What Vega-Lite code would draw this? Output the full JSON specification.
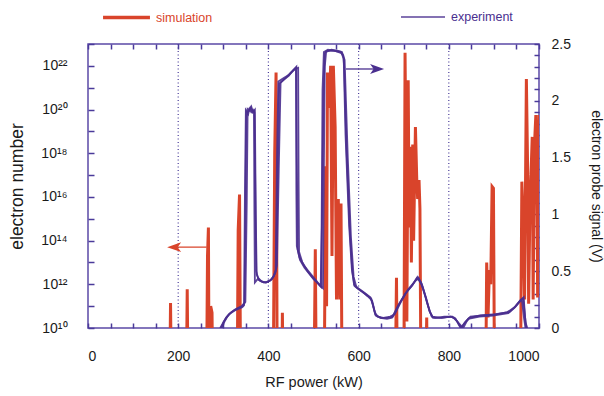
{
  "$schema": "https://vega.github.io/schema/vega-lite/v6.json",
  "width": 451,
  "height": 284,
  "autosize": "none",
  "padding": {"left": 88, "top": 44, "right": 65, "bottom": 68},
  "config": {
    "view": {"stroke": "#5b4aa6", "strokeWidth": 1.5},
    "font": "Liberation Sans",
    "axis": {"labelFont": "Liberation Sans", "titleFont": "Liberation Sans", "titleFontWeight": "normal", "labelColor": "#1a1a1a", "titleColor": "#1a1a1a", "tickColor": "#4a3a9a", "tickWidth": 1.5, "tickOpacity": 1, "domain": false, "grid": false, "labelOverlap": false, "labelFlush": false, "ticks": true, "zindex": 2}
  },
  "datasets": {
    "sim": [
      {"kw":0,"n":1e5},{"kw":180,"n":1e5},{"kw":183,"n":1.4e11},{"kw":186,"n":1e5},
      {"kw":217,"n":1e5},{"kw":220,"n":6e11},{"kw":223,"n":1e5},
      {"kw":262,"n":1e5},{"kw":265,"n":2e13},{"kw":267,"n":4e14},{"kw":269,"n":1e5},{"kw":272,"n":1e11},{"kw":275,"n":5e10},{"kw":278,"n":1e5},
      {"kw":330,"n":1e5},{"kw":333,"n":3e14},{"kw":336,"n":1.3e16},{"kw":339,"n":1e5},
      {"kw":410,"n":1e5},{"kw":414,"n":1e18},{"kw":417,"n":5e21},{"kw":420,"n":1e5},{"kw":429,"n":1e5},{"kw":431,"n":5e10},{"kw":434,"n":1e5},
      {"kw":500,"n":1e5},{"kw":504,"n":4e13},{"kw":507,"n":1e5},
      {"kw":523,"n":1e5},{"kw":527,"n":2.5e17},{"kw":529,"n":1e11},{"kw":531,"n":5e21},{"kw":535,"n":1.2e20},{"kw":538,"n":1e22},{"kw":541,"n":2e13},{"kw":544,"n":1e22},{"kw":548,"n":1.6e19},{"kw":551,"n":2e11},{"kw":555,"n":8e15},{"kw":558,"n":2e11},{"kw":561,"n":5e15},{"kw":564,"n":1e5},
      {"kw":680,"n":1e5},{"kw":684,"n":2e12},{"kw":687,"n":1e5},
      {"kw":700,"n":1e5},{"kw":703,"n":4e22},{"kw":705,"n":3e17},{"kw":707,"n":2e10},{"kw":710,"n":2.2e21},{"kw":712,"n":4e14},{"kw":715,"n":2e18},{"kw":717,"n":1e13},{"kw":720,"n":2.5e18},{"kw":722,"n":1e14},{"kw":726,"n":1.6e19},{"kw":729,"n":6e16},{"kw":731,"n":8e15},{"kw":734,"n":6e16},{"kw":736,"n":3e15},{"kw":739,"n":1e5},
      {"kw":748,"n":1e5},{"kw":751,"n":3e10},{"kw":754,"n":1e5},
      {"kw":881,"n":1e5},{"kw":884,"n":1e13},{"kw":887,"n":3e10},{"kw":890,"n":4.5e12},{"kw":893,"n":1e12},{"kw":896,"n":3e16},{"kw":899,"n":2.5e16},{"kw":902,"n":1e5},
      {"kw":958,"n":1e5},{"kw":962,"n":5e16},{"kw":965,"n":1e15},{"kw":968,"n":2e11},{"kw":972,"n":2.5e21},{"kw":975,"n":1e17},{"kw":977,"n":1.3e11},{"kw":980,"n":5e15},{"kw":983,"n":3e17},{"kw":985,"n":5.6e18},{"kw":987,"n":2e11},{"kw":990,"n":2.5e18},{"kw":993,"n":5.6e19},{"kw":995,"n":3e17},{"kw":997,"n":2.5e11},{"kw":1000,"n":5.6e19}
    ],
    "exp": [
      {"sweep":"A","i":0,"kw":295,"v":0},{"sweep":"A","i":1,"kw":300,"v":0.05},{"sweep":"A","i":2,"kw":308,"v":0.1},{"sweep":"A","i":3,"kw":318,"v":0.14},{"sweep":"A","i":4,"kw":330,"v":0.17},{"sweep":"A","i":5,"kw":343,"v":0.19},{"sweep":"A","i":6,"kw":347,"v":0.22},{"sweep":"A","i":7,"kw":349,"v":1.0},{"sweep":"A","i":8,"kw":351,"v":1.9},{"sweep":"A","i":9,"kw":355,"v":1.88},{"sweep":"A","i":10,"kw":358,"v":1.93},{"sweep":"A","i":11,"kw":362,"v":1.9},{"sweep":"A","i":12,"kw":366,"v":1.92},{"sweep":"A","i":13,"kw":369,"v":1.9},{"sweep":"A","i":14,"kw":371,"v":1.2},{"sweep":"A","i":15,"kw":373,"v":0.5},{"sweep":"A","i":16,"kw":377,"v":0.44},{"sweep":"A","i":17,"kw":385,"v":0.41},{"sweep":"A","i":18,"kw":395,"v":0.4},{"sweep":"A","i":19,"kw":405,"v":0.42},{"sweep":"A","i":20,"kw":412,"v":0.46},{"sweep":"A","i":21,"kw":417,"v":0.52},{"sweep":"A","i":22,"kw":420,"v":1.2},{"sweep":"A","i":23,"kw":424,"v":2.15},{"sweep":"A","i":24,"kw":435,"v":2.19},{"sweep":"A","i":25,"kw":445,"v":2.22},{"sweep":"A","i":26,"kw":455,"v":2.27},{"sweep":"A","i":27,"kw":462,"v":2.3},{"sweep":"A","i":28,"kw":463,"v":1.5},{"sweep":"A","i":29,"kw":465,"v":0.69},{"sweep":"A","i":30,"kw":470,"v":0.6},{"sweep":"A","i":31,"kw":480,"v":0.53},{"sweep":"A","i":32,"kw":490,"v":0.48},{"sweep":"A","i":33,"kw":500,"v":0.43},{"sweep":"A","i":34,"kw":510,"v":0.39},{"sweep":"A","i":35,"kw":517,"v":0.36},{"sweep":"A","i":36,"kw":519,"v":1.0},{"sweep":"A","i":37,"kw":522,"v":2.0},{"sweep":"A","i":38,"kw":525,"v":2.42},{"sweep":"A","i":39,"kw":530,"v":2.44},{"sweep":"A","i":40,"kw":545,"v":2.44},{"sweep":"A","i":41,"kw":560,"v":2.43},{"sweep":"A","i":42,"kw":566,"v":2.4},{"sweep":"A","i":43,"kw":568,"v":2.3},{"sweep":"A","i":44,"kw":573,"v":1.6},{"sweep":"A","i":45,"kw":580,"v":0.9},{"sweep":"A","i":46,"kw":586,"v":0.5},{"sweep":"A","i":47,"kw":591,"v":0.37},{"sweep":"A","i":48,"kw":600,"v":0.34},{"sweep":"A","i":49,"kw":615,"v":0.3},{"sweep":"A","i":50,"kw":628,"v":0.26},{"sweep":"A","i":51,"kw":633,"v":0.18},{"sweep":"A","i":52,"kw":638,"v":0.11},{"sweep":"A","i":53,"kw":650,"v":0.09},{"sweep":"A","i":54,"kw":665,"v":0.09},{"sweep":"A","i":55,"kw":676,"v":0.1},{"sweep":"A","i":56,"kw":690,"v":0.21},{"sweep":"A","i":57,"kw":705,"v":0.31},{"sweep":"A","i":58,"kw":720,"v":0.38},{"sweep":"A","i":59,"kw":731,"v":0.45},{"sweep":"A","i":60,"kw":740,"v":0.39},{"sweep":"A","i":61,"kw":750,"v":0.26},{"sweep":"A","i":62,"kw":758,"v":0.14},{"sweep":"A","i":63,"kw":765,"v":0.09},{"sweep":"A","i":64,"kw":785,"v":0.09},{"sweep":"A","i":65,"kw":805,"v":0.1},{"sweep":"A","i":66,"kw":815,"v":0.08},{"sweep":"A","i":67,"kw":822,"v":0.03},{"sweep":"A","i":68,"kw":828,"v":0},{"sweep":"A","i":69,"kw":836,"v":0.05},{"sweep":"A","i":70,"kw":845,"v":0.09},{"sweep":"A","i":71,"kw":870,"v":0.11},{"sweep":"A","i":72,"kw":900,"v":0.12},{"sweep":"A","i":73,"kw":934,"v":0.14},{"sweep":"A","i":74,"kw":948,"v":0.19},{"sweep":"A","i":75,"kw":960,"v":0.25},{"sweep":"A","i":76,"kw":965,"v":0.26},{"sweep":"A","i":77,"kw":969,"v":0.1},{"sweep":"A","i":78,"kw":972,"v":0},
      {"sweep":"B","i":0,"kw":297,"v":0},{"sweep":"B","i":1,"kw":303,"v":0.06},{"sweep":"B","i":2,"kw":312,"v":0.12},{"sweep":"B","i":3,"kw":325,"v":0.16},{"sweep":"B","i":4,"kw":340,"v":0.19},{"sweep":"B","i":5,"kw":349,"v":0.23},{"sweep":"B","i":6,"kw":352,"v":1.1},{"sweep":"B","i":7,"kw":354,"v":1.93},{"sweep":"B","i":8,"kw":358,"v":1.92},{"sweep":"B","i":9,"kw":362,"v":1.95},{"sweep":"B","i":10,"kw":366,"v":1.9},{"sweep":"B","i":11,"kw":370,"v":1.92},{"sweep":"B","i":12,"kw":372,"v":1.0},{"sweep":"B","i":13,"kw":374,"v":0.47},{"sweep":"B","i":14,"kw":380,"v":0.42},{"sweep":"B","i":15,"kw":390,"v":0.4},{"sweep":"B","i":16,"kw":400,"v":0.41},{"sweep":"B","i":17,"kw":408,"v":0.43},{"sweep":"B","i":18,"kw":415,"v":0.48},{"sweep":"B","i":19,"kw":419,"v":0.55},{"sweep":"B","i":20,"kw":423,"v":1.4},{"sweep":"B","i":21,"kw":427,"v":2.16},{"sweep":"B","i":22,"kw":438,"v":2.2},{"sweep":"B","i":23,"kw":450,"v":2.25},{"sweep":"B","i":24,"kw":459,"v":2.28},{"sweep":"B","i":25,"kw":466,"v":2.29},{"sweep":"B","i":26,"kw":467,"v":1.3},{"sweep":"B","i":27,"kw":468,"v":0.67},{"sweep":"B","i":28,"kw":475,"v":0.58},{"sweep":"B","i":29,"kw":487,"v":0.5},{"sweep":"B","i":30,"kw":497,"v":0.45},{"sweep":"B","i":31,"kw":507,"v":0.41},{"sweep":"B","i":32,"kw":515,"v":0.37},{"sweep":"B","i":33,"kw":521,"v":0.35},{"sweep":"B","i":34,"kw":523,"v":1.4},{"sweep":"B","i":35,"kw":525,"v":2.3},{"sweep":"B","i":36,"kw":528,"v":2.43},{"sweep":"B","i":37,"kw":540,"v":2.45},{"sweep":"B","i":38,"kw":555,"v":2.44},{"sweep":"B","i":39,"kw":563,"v":2.43},{"sweep":"B","i":40,"kw":569,"v":2.36},{"sweep":"B","i":41,"kw":576,"v":1.5},{"sweep":"B","i":42,"kw":583,"v":0.8},{"sweep":"B","i":43,"kw":589,"v":0.45},{"sweep":"B","i":44,"kw":595,"v":0.36},{"sweep":"B","i":45,"kw":608,"v":0.32},{"sweep":"B","i":46,"kw":620,"v":0.28},{"sweep":"B","i":47,"kw":630,"v":0.24},{"sweep":"B","i":48,"kw":636,"v":0.14},{"sweep":"B","i":49,"kw":642,"v":0.1},{"sweep":"B","i":50,"kw":655,"v":0.09},{"sweep":"B","i":51,"kw":670,"v":0.1},{"sweep":"B","i":52,"kw":680,"v":0.12},{"sweep":"B","i":53,"kw":695,"v":0.24},{"sweep":"B","i":54,"kw":710,"v":0.34},{"sweep":"B","i":55,"kw":725,"v":0.41},{"sweep":"B","i":56,"kw":733,"v":0.44},{"sweep":"B","i":57,"kw":742,"v":0.36},{"sweep":"B","i":58,"kw":752,"v":0.22},{"sweep":"B","i":59,"kw":762,"v":0.1},{"sweep":"B","i":60,"kw":770,"v":0.09},{"sweep":"B","i":61,"kw":790,"v":0.1},{"sweep":"B","i":62,"kw":808,"v":0.1},{"sweep":"B","i":63,"kw":818,"v":0.06},{"sweep":"B","i":64,"kw":832,"v":0},{"sweep":"B","i":65,"kw":840,"v":0.06},{"sweep":"B","i":66,"kw":848,"v":0.1},{"sweep":"B","i":67,"kw":875,"v":0.11},{"sweep":"B","i":68,"kw":905,"v":0.12},{"sweep":"B","i":69,"kw":930,"v":0.14},{"sweep":"B","i":70,"kw":945,"v":0.18},{"sweep":"B","i":71,"kw":958,"v":0.24},{"sweep":"B","i":72,"kw":966,"v":0.27},{"sweep":"B","i":73,"kw":970,"v":0.05},{"sweep":"B","i":74,"kw":974,"v":0},
      {"sweep":"C","i":0,"kw":293,"v":0},{"sweep":"C","i":1,"kw":299,"v":0.04},{"sweep":"C","i":2,"kw":306,"v":0.09},{"sweep":"C","i":3,"kw":316,"v":0.13},{"sweep":"C","i":4,"kw":328,"v":0.16},{"sweep":"C","i":5,"kw":341,"v":0.18},{"sweep":"C","i":6,"kw":346,"v":0.2},{"sweep":"C","i":7,"kw":348,"v":1.2},{"sweep":"C","i":8,"kw":350,"v":1.92},{"sweep":"C","i":9,"kw":354,"v":1.9},{"sweep":"C","i":10,"kw":357,"v":1.91},{"sweep":"C","i":11,"kw":361,"v":1.94},{"sweep":"C","i":12,"kw":365,"v":1.9},{"sweep":"C","i":13,"kw":368,"v":1.91},{"sweep":"C","i":14,"kw":369,"v":1.0},{"sweep":"C","i":15,"kw":370,"v":0.4},{"sweep":"C","i":16,"kw":376,"v":0.43},{"sweep":"C","i":17,"kw":384,"v":0.41},{"sweep":"C","i":18,"kw":394,"v":0.4},{"sweep":"C","i":19,"kw":404,"v":0.42},{"sweep":"C","i":20,"kw":411,"v":0.45},{"sweep":"C","i":21,"kw":416,"v":0.5},{"sweep":"C","i":22,"kw":419,"v":1.5},{"sweep":"C","i":23,"kw":422,"v":2.17},{"sweep":"C","i":24,"kw":434,"v":2.2},{"sweep":"C","i":25,"kw":446,"v":2.23},{"sweep":"C","i":26,"kw":456,"v":2.27},{"sweep":"C","i":27,"kw":461,"v":2.29},{"sweep":"C","i":28,"kw":462,"v":1.2},{"sweep":"C","i":29,"kw":463,"v":0.72},{"sweep":"C","i":30,"kw":469,"v":0.62},{"sweep":"C","i":31,"kw":479,"v":0.55},{"sweep":"C","i":32,"kw":489,"v":0.5},{"sweep":"C","i":33,"kw":499,"v":0.45},{"sweep":"C","i":34,"kw":509,"v":0.4},{"sweep":"C","i":35,"kw":516,"v":0.37},{"sweep":"C","i":36,"kw":518,"v":0.9},{"sweep":"C","i":37,"kw":520,"v":2.1},{"sweep":"C","i":38,"kw":523,"v":2.43},{"sweep":"C","i":39,"kw":532,"v":2.45},{"sweep":"C","i":40,"kw":548,"v":2.44},{"sweep":"C","i":41,"kw":562,"v":2.42},{"sweep":"C","i":42,"kw":567,"v":2.37},{"sweep":"C","i":43,"kw":571,"v":1.7},{"sweep":"C","i":44,"kw":579,"v":0.9},{"sweep":"C","i":45,"kw":585,"v":0.52},{"sweep":"C","i":46,"kw":590,"v":0.38},{"sweep":"C","i":47,"kw":599,"v":0.35},{"sweep":"C","i":48,"kw":613,"v":0.31},{"sweep":"C","i":49,"kw":626,"v":0.27},{"sweep":"C","i":50,"kw":632,"v":0.2},{"sweep":"C","i":51,"kw":637,"v":0.12},{"sweep":"C","i":52,"kw":648,"v":0.09},{"sweep":"C","i":53,"kw":663,"v":0.08},{"sweep":"C","i":54,"kw":674,"v":0.09},{"sweep":"C","i":55,"kw":688,"v":0.2},{"sweep":"C","i":56,"kw":703,"v":0.3},{"sweep":"C","i":57,"kw":718,"v":0.37},{"sweep":"C","i":58,"kw":729,"v":0.44},{"sweep":"C","i":59,"kw":738,"v":0.4},{"sweep":"C","i":60,"kw":748,"v":0.28},{"sweep":"C","i":61,"kw":757,"v":0.15},{"sweep":"C","i":62,"kw":764,"v":0.1},{"sweep":"C","i":63,"kw":783,"v":0.09},{"sweep":"C","i":64,"kw":803,"v":0.1},{"sweep":"C","i":65,"kw":813,"v":0.09},{"sweep":"C","i":66,"kw":820,"v":0.05},{"sweep":"C","i":67,"kw":826,"v":0},{"sweep":"C","i":68,"kw":834,"v":0.04},{"sweep":"C","i":69,"kw":843,"v":0.08},{"sweep":"C","i":70,"kw":868,"v":0.1},{"sweep":"C","i":71,"kw":898,"v":0.11},{"sweep":"C","i":72,"kw":932,"v":0.13},{"sweep":"C","i":73,"kw":946,"v":0.18},{"sweep":"C","i":74,"kw":957,"v":0.23},{"sweep":"C","i":75,"kw":962,"v":0.25},{"sweep":"C","i":76,"kw":967,"v":0.08},{"sweep":"C","i":77,"kw":970,"v":0}
    ]
  },
  "layer": [
    {
      "layer": [
        {
          "data": {"values": [{"kw":200},{"kw":400},{"kw":600},{"kw":800}]},
          "mark": {"type": "rule", "color": "#4a3c9a", "strokeWidth": 1.2, "strokeDash": [1, 2.5]},
          "encoding": {
            "x": {"field": "kw", "type": "quantitative", "scale": {"domain": [0, 1000], "nice": false},
              "axis": {"orient": "bottom", "values": [0,50,100,150,200,250,300,350,400,450,500,550,600,650,700,750,800,850,900,950,1000], "labelExpr": "datum.value % 200 == 0 ? datum.label : ''", "format": "d", "offset": -5, "tickSize": 5, "labelOverlap": false, "labelFlush": true, "labelPadding": 21, "labelFontSize": 14, "title": "RF power (kW)", "titleFontSize": 14.5, "titlePadding": 12}}
          }
        },
        {
          "data": {"name": "sim"},
          "mark": {"type": "line", "strokeWidth": 3, "clip": true, "strokeJoin": "miter"},
          "encoding": {
            "x": {"field": "kw", "type": "quantitative",
              "axis": {"orient": "bottom", "values": [0,50,100,150,200,250,300,350,400,450,500,550,600,650,700,750,800,850,900,950,1000], "labelExpr": "datum.value % 200 == 0 ? datum.label : ''", "format": "d", "offset": -5, "tickSize": 5, "labelOverlap": false, "labelFlush": true, "labelPadding": 21, "labelFontSize": 14, "title": "RF power (kW)", "titleFontSize": 14.5, "titlePadding": 12}},
            "y": {"field": "n", "type": "quantitative", "scale": {"type": "log", "domain": [1e10, 1e23], "nice": false},
              "axis": {"orient": "left", "values": [1e10,1e11,1e12,1e13,1e14,1e15,1e16,1e17,1e18,1e19,1e20,1e21,1e22,1e23], "labelExpr": "['10¹⁰','','10¹²','','10¹⁴','','10¹⁶','','10¹⁸','','10²⁰','','10²²',''][round(log(datum.value)/LN10)-10]", "offset": -6, "tickSize": 6, "labelOverlap": false, "labelPadding": 21, "labelFontSize": 14, "title": "electron number", "titleFontSize": 17.5, "titlePadding": 14}},
            "color": {"datum": "simulation", "type": "nominal", "scale": {"domain": ["simulation"], "range": ["#d9442b"]},
              "legend": {"orient": "none", "legendX": 13, "legendY": -52, "title": null, "symbolType": "stroke", "symbolSize": 2200, "symbolStrokeWidth": 3.5, "labelColor": "#d9442b", "labelFontSize": 12.5, "labelFont": "Liberation Sans", "padding": 0, "labelOffset": 4}}
          }
        },
        {
          "data": {"values": [{"kw":192,"n":5e13},{"kw":263,"n":5e13}]},
          "mark": {"type": "line", "color": "#d9442b", "strokeWidth": 1.3},
          "encoding": {
            "x": {"field": "kw", "type": "quantitative",
              "axis": {"orient": "bottom", "values": [0,50,100,150,200,250,300,350,400,450,500,550,600,650,700,750,800,850,900,950,1000], "labelExpr": "datum.value % 200 == 0 ? datum.label : ''", "format": "d", "offset": -5, "tickSize": 5, "labelOverlap": false, "labelFlush": true, "labelPadding": 21, "labelFontSize": 14, "title": "RF power (kW)", "titleFontSize": 14.5, "titlePadding": 12}},
            "y": {"field": "n", "type": "quantitative",
              "axis": {"orient": "left", "values": [1e10,1e11,1e12,1e13,1e14,1e15,1e16,1e17,1e18,1e19,1e20,1e21,1e22,1e23], "labelExpr": "['10¹⁰','','10¹²','','10¹⁴','','10¹⁶','','10¹⁸','','10²⁰','','10²²',''][round(log(datum.value)/LN10)-10]", "offset": -6, "tickSize": 6, "labelOverlap": false, "labelPadding": 21, "labelFontSize": 14, "title": "electron number", "titleFontSize": 17.5, "titlePadding": 14}}
          }
        },
        {
          "data": {"values": [{"kw":191,"n":5e13}]},
          "mark": {"type": "point", "shape": "M-1,0L1,-0.7L0.5,0L1,0.7Z", "filled": true, "color": "#d9442b", "size": 196, "opacity": 1},
          "encoding": {
            "x": {"field": "kw", "type": "quantitative",
              "axis": {"orient": "bottom", "values": [0,50,100,150,200,250,300,350,400,450,500,550,600,650,700,750,800,850,900,950,1000], "labelExpr": "datum.value % 200 == 0 ? datum.label : ''", "format": "d", "offset": -5, "tickSize": 5, "labelOverlap": false, "labelFlush": true, "labelPadding": 21, "labelFontSize": 14, "title": "RF power (kW)", "titleFontSize": 14.5, "titlePadding": 12}},
            "y": {"field": "n", "type": "quantitative",
              "axis": {"orient": "left", "values": [1e10,1e11,1e12,1e13,1e14,1e15,1e16,1e17,1e18,1e19,1e20,1e21,1e22,1e23], "labelExpr": "['10¹⁰','','10¹²','','10¹⁴','','10¹⁶','','10¹⁸','','10²⁰','','10²²',''][round(log(datum.value)/LN10)-10]", "offset": -6, "tickSize": 6, "labelOverlap": false, "labelPadding": 21, "labelFontSize": 14, "title": "electron number", "titleFontSize": 17.5, "titlePadding": 14}}
          }
        }
      ]
    },
    {
      "layer": [
        {
          "data": {"name": "exp"},
          "mark": {"type": "line", "strokeWidth": 1.8, "clip": true, "opacity": 0.9},
          "encoding": {
            "x": {"field": "kw", "type": "quantitative", "axis": {"orient": "top", "values": [0,50,100,150,200,250,300,350,400,450,500,550,600,650,700,750,800,850,900,950,1000], "labels": false, "offset": -5, "tickSize": 5, "title": null}},
            "y": {"field": "v", "type": "quantitative", "scale": {"domain": [0, 2.5], "nice": false},
              "axis": {"orient": "right", "values": [0,0.1,0.2,0.3,0.4,0.5,0.6,0.7,0.8,0.9,1,1.1,1.2,1.3,1.4,1.5,1.6,1.7,1.8,1.9,2,2.1,2.2,2.3,2.4,2.5], "labelExpr": "abs(datum.value*2 - round(datum.value*2)) < 0.001 ? '' + round(datum.value*10)/10 : ''", "offset": -5, "tickSize": 5, "labelOverlap": false, "labelPadding": 12, "labelFontSize": 14, "title": "electron probe signal (V)", "titleFontSize": 14, "titlePadding": 18}},
            "detail": {"field": "sweep"},
            "order": {"field": "i", "type": "quantitative"},
            "color": {"datum": "experiment", "type": "nominal", "scale": {"domain": ["experiment"], "range": ["#4a2f8f"]},
              "legend": {"orient": "none", "legendX": 312, "legendY": -50, "title": null, "symbolType": "stroke", "symbolSize": 1936, "symbolStrokeWidth": 1.5, "labelColor": "#4a2f8f", "labelFontSize": 12.5, "labelFont": "Liberation Sans", "padding": 0, "labelOffset": 5}}
          }
        },
        {
          "data": {"values": [{"kw":572,"v":2.28},{"kw":640,"v":2.28}]},
          "mark": {"type": "line", "color": "#4a2f8f", "strokeWidth": 1.3},
          "encoding": {
            "x": {"field": "kw", "type": "quantitative", "axis": {"orient": "top", "values": [0,50,100,150,200,250,300,350,400,450,500,550,600,650,700,750,800,850,900,950,1000], "labels": false, "offset": -5, "tickSize": 5, "title": null}},
            "y": {"field": "v", "type": "quantitative",
              "axis": {"orient": "right", "values": [0,0.1,0.2,0.3,0.4,0.5,0.6,0.7,0.8,0.9,1,1.1,1.2,1.3,1.4,1.5,1.6,1.7,1.8,1.9,2,2.1,2.2,2.3,2.4,2.5], "labelExpr": "abs(datum.value*2 - round(datum.value*2)) < 0.001 ? '' + round(datum.value*10)/10 : ''", "offset": -5, "tickSize": 5, "labelOverlap": false, "labelPadding": 12, "labelFontSize": 14, "title": "electron probe signal (V)", "titleFontSize": 14, "titlePadding": 18}}
          }
        },
        {
          "data": {"values": [{"kw":641,"v":2.28}]},
          "mark": {"type": "point", "shape": "M1,0L-1,-0.7L-0.5,0L-1,0.7Z", "filled": true, "color": "#4a2f8f", "size": 196, "opacity": 1},
          "encoding": {
            "x": {"field": "kw", "type": "quantitative", "axis": {"orient": "top", "values": [0,50,100,150,200,250,300,350,400,450,500,550,600,650,700,750,800,850,900,950,1000], "labels": false, "offset": -5, "tickSize": 5, "title": null}},
            "y": {"field": "v", "type": "quantitative",
              "axis": {"orient": "right", "values": [0,0.1,0.2,0.3,0.4,0.5,0.6,0.7,0.8,0.9,1,1.1,1.2,1.3,1.4,1.5,1.6,1.7,1.8,1.9,2,2.1,2.2,2.3,2.4,2.5], "labelExpr": "abs(datum.value*2 - round(datum.value*2)) < 0.001 ? '' + round(datum.value*10)/10 : ''", "offset": -5, "tickSize": 5, "labelOverlap": false, "labelPadding": 12, "labelFontSize": 14, "title": "electron probe signal (V)", "titleFontSize": 14, "titlePadding": 18}}
          }
        }
      ]
    }
  ],
  "resolve": {"scale": {"y": "independent", "color": "independent"}, "axis": {"x": "independent"}}
}
